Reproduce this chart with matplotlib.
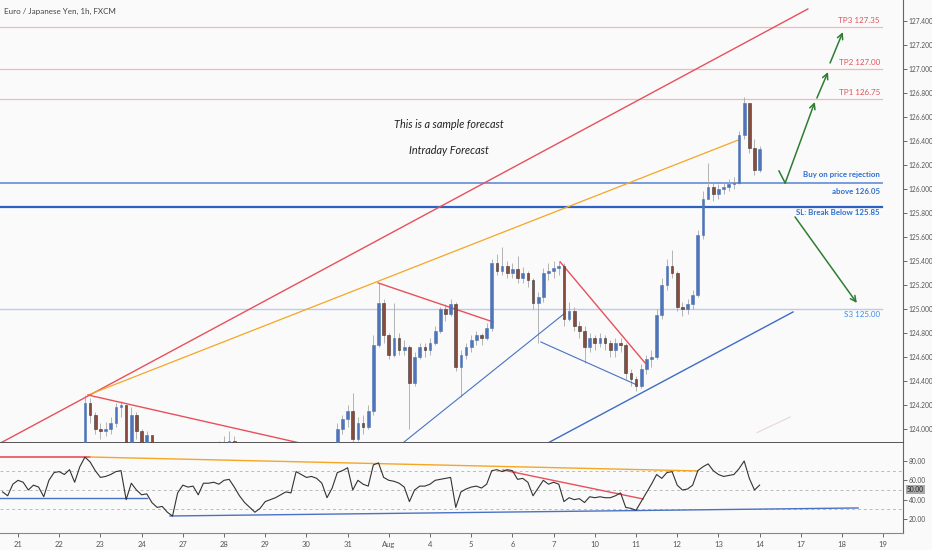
import matplotlib.pyplot as plt
from matplotlib.transforms import blended_transform_factory

plt.rcParams['font.family'] = ['Lato', 'DejaVu Sans']

# 3-hour bars, day index 0 = Jul 21 (weekends removed)
bar_start = -0.375
bar_step = 1 / 8

closes = [
    123.55, 123.50, 123.62, 123.66, 123.64, 123.60, 123.64, 123.62, 123.52, 123.70,
    123.80, 123.82, 123.78, 123.84, 123.72, 123.86, 124.22, 124.12, 124.00, 123.98,
    124.00, 124.05, 124.18, 124.20, 123.82, 124.12, 123.98, 123.86, 123.95, 123.78,
    123.70, 123.72, 123.62, 123.56, 123.72, 123.80, 123.78, 123.80, 123.72, 123.82,
    123.84, 123.86, 123.84, 123.88, 123.90, 123.84, 123.76, 123.68, 123.62, 123.56,
    123.62, 123.66, 123.68, 123.70, 123.72, 123.76, 123.74, 123.84, 123.82, 123.80,
    123.82, 123.80, 123.76, 123.60, 123.74, 124.00, 124.08, 124.15, 123.92, 124.05,
    124.02, 124.15, 124.70, 125.05, 124.78, 124.62, 124.76, 124.66, 124.68, 124.38,
    124.60, 124.68, 124.66, 124.72, 124.82, 125.00, 124.96, 125.04, 124.52, 124.62,
    124.68, 124.74, 124.78, 124.76, 124.84, 125.38, 125.32, 125.36, 125.30, 125.33,
    125.26, 125.30, 125.24, 125.05, 125.10, 125.30, 125.32, 125.34, 125.36, 124.92,
    124.98, 124.86, 124.82, 124.68, 124.76, 124.72, 124.76, 124.72, 124.66, 124.72,
    124.70, 124.47, 124.42, 124.36, 124.50, 124.58, 124.60, 124.95, 125.20, 125.36,
    125.30, 125.02, 125.00, 125.04, 125.12, 125.62, 125.92, 126.02, 125.96, 126.00,
    126.02, 126.04, 126.05, 126.45, 126.72, 126.34, 126.16, 126.33,
]
highs = [
    123.62, 123.58, 123.66, 123.72, 123.70, 123.68, 123.68, 123.68, 123.62, 123.74,
    123.84, 123.86, 123.85, 123.87, 123.84, 123.88, 124.28, 124.26, 124.14, 124.05,
    124.06, 124.10, 124.22, 124.23, 124.20, 124.18, 124.14, 124.00, 123.98, 123.92,
    123.80, 123.76, 123.74, 123.66, 123.76, 123.84, 123.84, 123.84, 123.82, 123.85,
    123.88, 123.89, 123.90, 123.94, 123.98, 123.94, 123.88, 123.78, 123.70, 123.64,
    123.66, 123.70, 123.72, 123.74, 123.76, 123.80, 123.80, 123.87, 123.86, 123.86,
    123.86, 123.84, 123.82, 123.78, 123.78, 124.05, 124.12, 124.20, 124.30, 124.10,
    124.12, 124.20, 124.78, 125.22, 125.08, 124.80, 125.05, 124.80, 124.74, 124.70,
    124.64, 124.72, 124.72, 124.76, 124.86, 125.02, 125.04, 125.08, 125.06, 124.66,
    124.72, 124.78, 124.82, 124.80, 124.88, 125.42, 125.46, 125.52, 125.40, 125.38,
    125.44, 125.35, 125.32, 125.26, 125.14, 125.34, 125.38, 125.40, 125.40, 125.38,
    125.06, 125.02, 124.90, 124.86, 124.80, 124.78, 124.80, 124.78, 124.74, 124.76,
    124.76, 124.72, 124.50, 124.44, 124.54, 124.62, 124.66, 125.00, 125.26, 125.42,
    125.49, 125.32, 125.06, 125.08, 125.16, 125.66, 125.98, 126.22, 126.06, 126.04,
    126.06, 126.08, 126.10, 126.48, 126.77, 126.70, 126.42, 126.36,
]
lows = [
    123.48, 123.44, 123.50, 123.58, 123.58, 123.54, 123.55, 123.56, 123.46, 123.50,
    123.68, 123.74, 123.72, 123.74, 123.68, 123.70, 123.85, 124.05, 123.96, 123.92,
    123.94, 123.96, 124.02, 124.10, 123.78, 123.80, 123.92, 123.82, 123.80, 123.74,
    123.64, 123.64, 123.58, 123.52, 123.54, 123.70, 123.74, 123.74, 123.68, 123.70,
    123.78, 123.80, 123.80, 123.82, 123.84, 123.80, 123.72, 123.64, 123.58, 123.52,
    123.54, 123.58, 123.62, 123.64, 123.66, 123.70, 123.70, 123.72, 123.76, 123.76,
    123.76, 123.74, 123.72, 123.56, 123.58, 123.72, 123.96, 124.02, 123.88, 123.90,
    123.96, 124.00, 124.12, 124.68, 124.72, 124.58, 124.60, 124.62, 124.62, 124.00,
    124.36, 124.58, 124.60, 124.62, 124.70, 124.80, 124.90, 124.94, 124.48, 124.27,
    124.58, 124.64, 124.70, 124.70, 124.74, 124.82, 125.28, 125.28, 125.26, 125.26,
    125.22, 125.22, 125.18, 125.00, 124.72, 125.06, 125.24, 125.26, 125.28, 124.86,
    124.90, 124.82, 124.76, 124.55, 124.64, 124.66, 124.68, 124.66, 124.60, 124.60,
    124.64, 124.42, 124.36, 124.32, 124.34, 124.46, 124.52, 124.58, 124.92, 125.16,
    125.26, 124.98, 124.94, 124.96, 125.00, 125.10, 125.58, 125.96, 125.90, 125.92,
    125.96, 125.98, 126.00, 126.04, 126.42, 126.30, 126.12, 126.14,
]
rsi = [
    48, 44, 56, 60, 58, 50, 55, 53, 43, 60,
    68, 69, 66, 71, 58, 74, 84, 79, 70, 63,
    64, 66, 69, 70, 40, 57, 50, 45, 46, 37,
    32, 33, 27, 23, 47, 55, 53, 54, 45, 57,
    57, 58, 56, 60, 61, 53, 44, 37, 32, 27,
    31, 38, 40, 42, 45, 48, 47, 69, 66, 63,
    64, 62, 57, 42, 52, 68, 70, 73, 50, 60,
    56, 54, 76, 78, 63, 60, 59, 57, 53, 38,
    50, 54, 54, 56, 60, 61, 62, 63, 32, 48,
    51, 53, 54, 52, 56, 70, 71, 69, 71, 70,
    61, 62, 58, 44, 52, 60, 56, 58, 56, 38,
    42, 40, 41, 37, 43, 42, 43, 42, 42, 44,
    47, 32, 31, 29, 38, 47, 56, 66, 62, 68,
    69, 55, 50, 51, 55, 70, 74, 77, 70, 66,
    64, 65, 66, 72, 80, 62, 50, 55,
]

day_labels = ['21', '22', '23', '24', '27', '28', '29', '30', '31', 'Aug', '4',
              '5', '6', '7', '10', '11', '12', '13', '14', '17', '18', '19']

price_ticks = [124.0, 124.2, 124.4, 124.6, 124.8, 125.0, 125.2, 125.4, 125.6,
               125.8, 126.0, 126.2, 126.4, 126.6, 126.8, 127.0, 127.2, 127.4]
rsi_ticks = [20, 40, 60, 80]

# forecast levels
tp_levels = [127.35, 127.00, 126.75]
tp_names = ['TP3 127.35', 'TP2 127.00', 'TP1 126.75']
buy_level = 126.05
sl_level = 125.85
s3_level = 125.00

bg = '#fafafa'
up_col = '#4f74b8'
down_col = '#8a4a3c'
green = '#2e7d32'
blue_txt = '#2f6fcf'

fig = plt.figure(figsize=(9.32, 5.5), dpi=100, facecolor=bg)
ax = fig.add_axes([0, 107 / 550, 903 / 932, 443 / 550])
ax2 = fig.add_axes([0, 17 / 550, 903 / 932, 90 / 550], sharex=ax)
for a in (ax, ax2):
    a.set_facecolor(bg)
    for s in ('left', 'top'):
        a.spines[s].set_visible(False)
    a.spines['right'].set_color('#666666')
    a.yaxis.tick_right()
    a.tick_params(axis='y', labelsize=4.8, colors='#555555', length=3, width=0.6, pad=1)
ax.spines['bottom'].set_color('#555555')
ax.spines['bottom'].set_linewidth(1.4)
ax2.spines['bottom'].set_color('#888888')

xs = [bar_start + k * bar_step for k in range(len(closes))]
opens = [closes[0]] + closes[:-1]

# candles
for x, o, h, l, c in zip(xs, opens, highs, lows, closes):
    ax.vlines(x, l, h, color='#a8a8a8', lw=0.6, zorder=2)
    col = up_col if c >= o else down_col
    ax.bar(x, max(abs(c - o), 0.006), bottom=min(o, c), width=0.065,
           color=col, edgecolor='#3a3a3a' if c < o else up_col, lw=0.4, zorder=3)

# horizontal levels
for lv in tp_levels:
    ax.plot([-0.44, 20.97], [lv, lv], color='#f5b5bc', lw=0.9, zorder=1)
ax.plot([-0.44, 20.97], [buy_level, buy_level], color='#6f93dc', lw=1.3, zorder=1)
ax.plot([-0.44, 20.97], [sl_level, sl_level], color='#2d62c4', lw=1.6, zorder=1)
ax.plot([-0.44, 20.97], [s3_level, s3_level], color='#bccbef', lw=1.0, zorder=1)

# trend lines
ax.plot([-0.44, 19.17], [123.88, 127.50], color='#e8505b', lw=1.0)
ax.plot([1.70, 17.48], [124.283, 126.408], color='#f5a623', lw=0.9)
ax.plot([1.70, 6.84], [124.283, 123.883], color='#e8505b', lw=1.0)
ax.plot([8.74, 11.53], [125.217, 124.892], color='#e8505b', lw=1.0)
ax.plot([13.16, 15.22], [125.392, 124.55], color='#e8505b', lw=1.0)
ax.plot([9.34, 13.28], [123.883, 124.967], color='#4a72c4', lw=0.8)
ax.plot([12.69, 15.02], [124.725, 124.367], color='#4a72c4', lw=0.8)
ax.plot([12.86, 18.81], [123.883, 124.975], color='#3f6cc4', lw=1.0)
ax.plot([17.94, 18.74], [123.97, 124.10], color='#ead6d6', lw=0.8)

# forecast arrows
ax.plot([18.47, 18.62], [126.15, 126.05], color=green, lw=1.1)
arrow_kw = dict(arrowstyle='->', color=green, lw=1.1, mutation_scale=10,
                shrinkA=0, shrinkB=0)
ax.annotate('', xy=(19.34, 126.725), xytext=(18.62, 126.05), arrowprops=arrow_kw)
ax.annotate('', xy=(19.66, 126.975), xytext=(19.39, 126.758), arrowprops=arrow_kw)
ax.annotate('', xy=(20.02, 127.308), xytext=(19.71, 127.05), arrowprops=arrow_kw)
ax.annotate('', xy=(20.36, 125.05), xytext=(18.86, 125.767), arrowprops=arrow_kw)

# labels
for lv, name, ty in zip(tp_levels, tp_names, [127.408, 127.058, 126.808]):
    ax.text(20.92, ty, name, color='#e0525a', fontsize=5.8, ha='right', va='center')
ax.text(20.92, 126.117, 'Buy on price rejection', color=blue_txt, fontsize=5.7,
        fontweight='bold', ha='right', va='center')
ax.text(20.92, 125.983, 'above 126.05', color=blue_txt, fontsize=5.7,
        fontweight='bold', ha='right', va='center')
ax.text(20.92, 125.80, 'SL: Break Below 125.85', color=blue_txt, fontsize=5.7,
        fontweight='bold', ha='right', va='center')
ax.text(20.92, 124.95, 'S3 125.00', color='#3a8ee6', fontsize=5.8, ha='right', va='center')
ax.text(10.45, 126.54, 'This is a sample forecast', fontsize=7.8, style='italic',
        color='#222222', ha='center', va='center')
ax.text(10.47, 126.317, 'Intraday Forecast', fontsize=7.8, style='italic',
        color='#222222', ha='center', va='center')
ax.text(0.004, 0.975, 'Euro / Japanese Yen, 1h, FXCM', transform=ax.transAxes,
        fontsize=5.8, color='#444444', ha='left', va='center')

ax.set_xlim(-0.437, 21.48)
ax.set_ylim(123.883, 127.575)
ax.set_yticks(price_ticks)
ax.set_yticklabels([f'{p:.3f}' for p in price_ticks])
ax.tick_params(axis='x', which='both', bottom=False, labelbottom=False)

# RSI panel
ax2.plot(xs, rsi, color='#333333', lw=0.8, zorder=3)
for lv in (70, 50, 30):
    ax2.axhline(lv, color='#bbbbbb', lw=0.7, ls=(0, (3, 3)), zorder=1)
ax2.plot([-0.44, 1.75], [84.1, 84.1], color='#e8505b', lw=1.2)
ax2.plot([1.75, 16.50], [84.1, 69.7], color='#f5a623', lw=1.0)
ax2.plot([-0.44, 3.13], [41.7, 41.7], color='#4a72c4', lw=1.0)
ax2.plot([3.69, 20.39], [23.1, 31.4], color='#4a72c4', lw=1.0)
ax2.plot([11.77, 15.17], [70.7, 40.7], color='#e8505b', lw=1.0)
ax2.set_ylim(5.5, 98.6)
ax2.set_yticks(rsi_ticks)
ax2.set_yticklabels([f'{v:.2f}' for v in rsi_ticks])
ax2.set_xticks(range(len(day_labels)))
ax2.set_xticklabels(day_labels)
ax2.tick_params(axis='x', labelsize=5.5, colors='#555555', length=3, width=0.6, pad=3)
tr = blended_transform_factory(ax2.transAxes, ax2.transData)
ax2.text(1.004, 50, '50.00', transform=tr, fontsize=4.8, color='#222222',
         ha='left', va='center',
         bbox=dict(boxstyle='square,pad=0.15', fc='#a9a9a9', ec='none'))

fig.savefig('out.png', dpi=100, facecolor=bg)
